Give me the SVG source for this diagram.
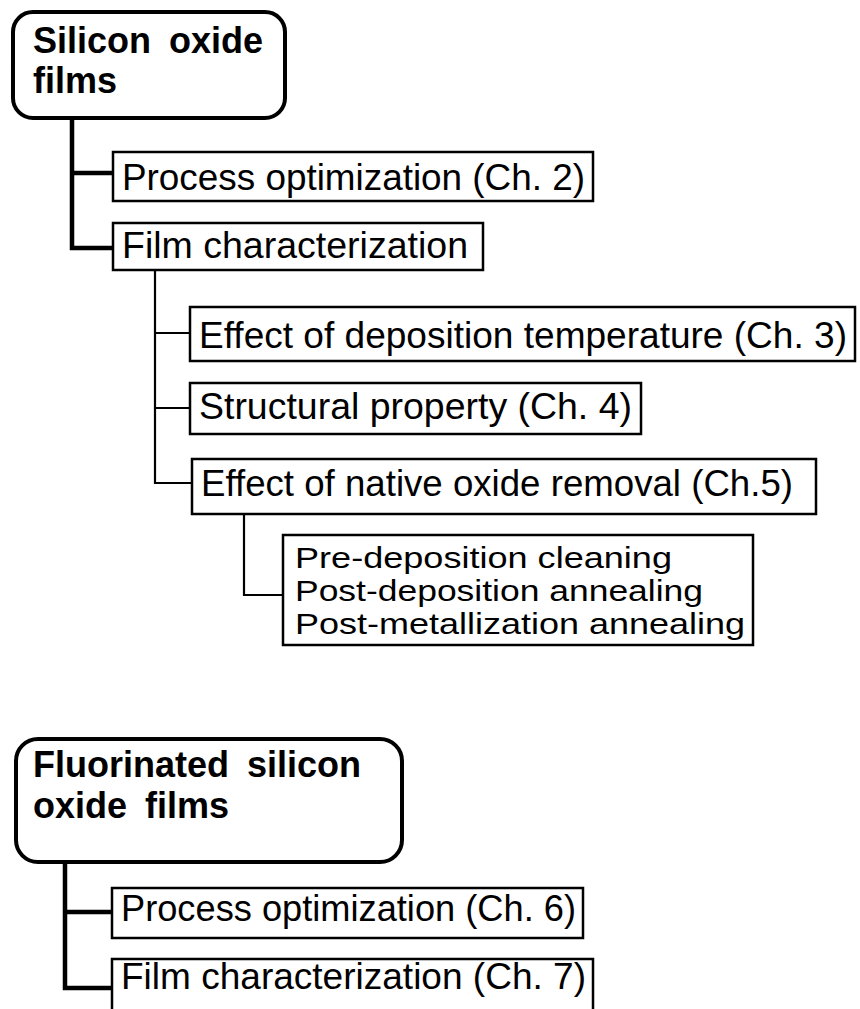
<svg xmlns="http://www.w3.org/2000/svg" width="860" height="1009" viewBox="0 0 860 1009">
<style>
.bg{fill:#fff}
.box{fill:#fff;stroke:#000;stroke-width:2.5}
.rbox{fill:#fff;stroke:#000;stroke-width:4}
.t{font-family:"Liberation Sans",Arial,sans-serif;font-size:36px;fill:#000}
.s{font-family:"Liberation Sans",Arial,sans-serif;font-size:30px;fill:#000}
.b{font-family:"Liberation Sans",Arial,sans-serif;font-size:36px;font-weight:bold;fill:#000;word-spacing:8px}
.thick{fill:none;stroke:#000;stroke-width:4.5}
.thin{fill:none;stroke:#000;stroke-width:2.2}
</style>
<rect class="bg" x="0" y="0" width="860" height="1009"/>
<g id="connectors">
<path class="thick" d="M72 118 V248 H113 M72 173 H113"/>
<path class="thin" d="M155 270 V483 H192 M155 333 H190 M155 408 H190"/>
<path class="thin" d="M244 514 V595 H283"/>
<path class="thick" d="M65 862 V988 H112 M65 912 H112"/>
</g>
<g id="n-silicon">
<rect class="rbox" x="13" y="12" width="272" height="106" rx="20"/>
<text class="b" x="33" y="53">Silicon oxide</text>
<text class="b" x="33" y="93">films</text>
</g>
<g id="n-proc2">
<rect class="box" x="113" y="152" width="480" height="49"/>
<text class="t" x="122" y="190" textLength="463" lengthAdjust="spacingAndGlyphs">Process optimization (Ch. 2)</text>
</g>
<g id="n-film">
<rect class="box" x="113" y="223" width="370" height="47"/>
<text class="t" x="122" y="258" textLength="346" lengthAdjust="spacingAndGlyphs">Film characterization</text>
</g>
<g id="n-dep3">
<rect class="box" x="190" y="307" width="665" height="54"/>
<text class="t" x="199" y="348" textLength="648" lengthAdjust="spacingAndGlyphs">Effect of deposition temperature (Ch. 3)</text>
</g>
<g id="n-struct4">
<rect class="box" x="190" y="383" width="451" height="51"/>
<text class="t" x="199" y="419" textLength="433" lengthAdjust="spacingAndGlyphs">Structural property (Ch. 4)</text>
</g>
<g id="n-native5">
<rect class="box" x="192" y="459" width="624" height="55"/>
<text class="t" x="201" y="496" textLength="592" lengthAdjust="spacingAndGlyphs">Effect of native oxide removal (Ch.5)</text>
</g>
<g id="n-treat">
<rect class="box" x="283" y="535" width="470" height="110"/>
<text class="s" x="295" y="568" textLength="377" lengthAdjust="spacingAndGlyphs">Pre-deposition cleaning</text>
<text class="s" x="295" y="601" textLength="408" lengthAdjust="spacingAndGlyphs">Post-deposition annealing</text>
<text class="s" x="295" y="634" textLength="450" lengthAdjust="spacingAndGlyphs">Post-metallization annealing</text>
</g>
<g id="n-fsio">
<rect class="rbox" x="16" y="739" width="386" height="123" rx="22"/>
<text class="b" x="33" y="777">Fluorinated silicon</text>
<text class="b" x="33" y="818">oxide films</text>
</g>
<g id="n-proc6">
<rect class="box" x="112" y="888" width="471" height="50"/>
<text class="t" x="121" y="921" textLength="455" lengthAdjust="spacingAndGlyphs">Process optimization (Ch. 6)</text>
</g>
<g id="n-film7">
<rect class="box" x="112" y="959" width="481" height="60"/>
<text class="t" x="121" y="989" textLength="465" lengthAdjust="spacingAndGlyphs">Film characterization (Ch. 7)</text>
</g>
</svg>
